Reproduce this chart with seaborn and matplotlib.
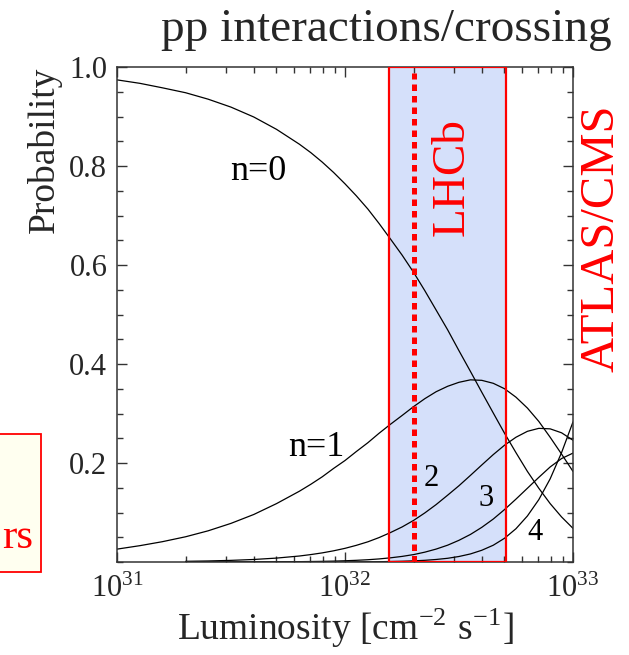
import numpy as np
import pandas as pd
import matplotlib
matplotlib.use("Agg")
import matplotlib.pyplot as plt
import seaborn as sns
from matplotlib.ticker import FixedLocator, MultipleLocator, LogLocator, NullFormatter, FixedFormatter
from matplotlib.patches import Rectangle

# ---------------- data ----------------
lum = [1.00e31, 1.26e31, 1.58e31, 2.00e31, 2.51e31, 3.16e31, 3.98e31, 5.01e31, 6.31e31,
       7.08e31, 7.94e31, 8.91e31, 1.00e32, 1.12e32, 1.26e32, 1.41e32, 1.58e32, 1.78e32,
       2.00e32, 2.24e32, 2.51e32, 2.82e32, 3.16e32, 3.55e32, 3.98e32, 4.47e32, 5.01e32,
       5.62e32, 6.31e32, 7.08e32, 7.94e32, 8.91e32, 1.00e33]
p_n0 = [0.974, 0.967, 0.958, 0.948, 0.935, 0.919, 0.899, 0.874, 0.844,
        0.827, 0.808, 0.787, 0.764, 0.740, 0.713, 0.684, 0.653, 0.620,
        0.585, 0.548, 0.509, 0.469, 0.427, 0.385, 0.343, 0.301, 0.260,
        0.221, 0.183, 0.149, 0.118, 0.091, 0.068]
p_n1 = [0.026, 0.033, 0.041, 0.051, 0.063, 0.078, 0.096, 0.118, 0.143,
        0.157, 0.172, 0.189, 0.205, 0.223, 0.241, 0.260, 0.278, 0.296,
        0.314, 0.330, 0.344, 0.355, 0.363, 0.368, 0.367, 0.361, 0.350,
        0.333, 0.311, 0.284, 0.252, 0.218, 0.183]
# higher multiplicities are drawn from 2e31 onwards
lum_high = [2.00e31, 2.51e31, 3.16e31, 3.98e31, 5.01e31, 6.31e31,
            7.08e31, 7.94e31, 8.91e31, 1.00e32, 1.12e32, 1.26e32, 1.41e32, 1.58e32, 1.78e32,
            2.00e32, 2.24e32, 2.51e32, 2.82e32, 3.16e32, 3.55e32, 3.98e32, 4.47e32, 5.01e32,
            5.62e32, 6.31e32, 7.08e32, 7.94e32, 8.91e32, 1.00e33]
p_n2 = [0.0014, 0.0021, 0.0033, 0.0051, 0.0079, 0.0121,
        0.0150, 0.0184, 0.0226, 0.0276, 0.0336, 0.0408, 0.0493, 0.0593, 0.0708,
        0.0841, 0.0992, 0.116, 0.135, 0.154, 0.175, 0.196, 0.217, 0.236,
        0.252, 0.264, 0.270, 0.269, 0.261, 0.246]
p_n3 = [0.0000, 0.0000, 0.0001, 0.0002, 0.0004, 0.0007,
        0.0010, 0.0013, 0.0018, 0.0025, 0.0034, 0.0046, 0.0062, 0.0084, 0.0113,
        0.0150, 0.0199, 0.0261, 0.0340, 0.0438, 0.0557, 0.0700, 0.0868, 0.106,
        0.127, 0.149, 0.171, 0.192, 0.209, 0.220]
p_n4 = [0.0000, 0.0000, 0.0000, 0.0000, 0.0000, 0.0000,
        0.0000, 0.0001, 0.0001, 0.0002, 0.0003, 0.0004, 0.0006, 0.0010, 0.0015,
        0.0023, 0.0034, 0.0051, 0.0075, 0.0111, 0.0163, 0.0237, 0.0339, 0.048,
        0.0672, 0.093, 0.126, 0.168, 0.221, 0.283]

curve_names = ["n=0", "n=1", "2", "3", "4"]
lhcb_range = [1.56e32, 5.1e32]
lhcb_nominal = 2.0e32
y_ticks = [0.2, 0.4, 0.6, 0.8, 1.0]
y_tick_labels = ["0.2", "0.4", "0.6", "0.8", "1.0"]
x_ticks = [1e31, 1e32, 1e33]
x_tick_labels = [r"$\mathdefault{10^{31}}$", r"$\mathdefault{10^{32}}$", r"$\mathdefault{10^{33}}$"]

title_text = "pp interactions/crossing"
xlabel_text = r"Luminosity [cm$^{\mathdefault{-2}}$ s$^{\mathdefault{-1}}$]"
ylabel_text = "Probability"

# ---------------- long-form table ----------------
frames = []
for name, xs, ys in zip(curve_names,
                        [lum, lum, lum_high, lum_high, lum_high],
                        [p_n0, p_n1, p_n2, p_n3, p_n4]):
    frames.append(pd.DataFrame({"L": xs, "P": ys, "curve": name}))
df = pd.concat(frames, ignore_index=True)

# ---------------- style ----------------
sns.set_style("ticks")
plt.rcParams['font.family'] = ['Liberation Serif', 'DejaVu Serif']
plt.rcParams['mathtext.fontset'] = 'stix'
plt.rcParams['axes.unicode_minus'] = True

W, H = 629, 655
fig = plt.figure(figsize=(W / 100, H / 100), dpi=100)
ax_l, ax_r, ax_t, ax_b = 117, 573, 67, 562
ax = fig.add_axes([ax_l / W, (H - ax_b) / H, (ax_r - ax_l) / W, (ax_b - ax_t) / H])

red = "#ff0000"

# LHCb luminosity band
ax.axvspan(lhcb_range[0], lhcb_range[1], facecolor="#d5e0fa", edgecolor="none", zorder=0.5)

sns.lineplot(data=df, x="L", y="P", hue="curve", palette=["black"] * 5,
             estimator=None, legend=False, ax=ax, linewidth=0.9, zorder=2)

ax.axvspan(lhcb_range[0], lhcb_range[1], facecolor="none", edgecolor=red, lw=1.6, zorder=3)
ax.axvline(lhcb_nominal, ymin=0.0, ymax=0.988, color=red, lw=3.6,
           linestyle=(0, (1.3, 1.0)), zorder=4)

ax.set_xscale("log")
ax.set_xlim(1e31, 1e33)
ax.set_ylim(0, 1.0)

ax.xaxis.set_major_locator(FixedLocator(x_ticks))
ax.xaxis.set_major_formatter(FixedFormatter(x_tick_labels))
ax.xaxis.set_minor_locator(LogLocator(base=10, subs=np.arange(2, 10)))
ax.xaxis.set_minor_formatter(NullFormatter())
ax.yaxis.set_major_locator(FixedLocator(y_ticks))
ax.yaxis.set_major_formatter(FixedFormatter(y_tick_labels))
ax.yaxis.set_minor_locator(MultipleLocator(0.05))

ax.tick_params(which="both", direction="in", top=True, right=True, color="#333333", width=1.0)
ax.tick_params(which="major", length=7, labelsize=22, pad=7)
ax.tick_params(which="minor", length=4)
ax.tick_params(axis="x", which="major", pad=9)
for s in ax.spines.values():
    s.set_color("#333333")
    s.set_linewidth(1.1)
    s.set_visible(True)

ax.set_xlabel(xlabel_text, fontsize=27, labelpad=2)
ax.set_ylabel(ylabel_text, fontsize=27)
ax.yaxis.set_label_coords((62 - ax_l) / (ax_r - ax_l), (ax_b - 150) / (ax_b - ax_t))

def axfrac(px, py):
    return ((px - ax_l) / (ax_r - ax_l), (ax_b - py) / (ax_b - ax_t))

label_pos = {"n=0": (258, 172), "n=1": (316, 447), "2": (431, 478), "3": (486, 498), "4": (535, 533)}
label_size = {"n=0": 26, "n=1": 26, "2": 22, "3": 22, "4": 22}
for name in curve_names:
    fx, fy = axfrac(*label_pos[name])
    ax.text(fx, fy, name, transform=ax.transAxes, ha="center", va="center",
            fontsize=label_size[name], color="black", zorder=5)

fx, fy = axfrac(452, 177)
ax.text(fx, fy, "LHCb", transform=ax.transAxes, rotation=90, ha="center", va="center",
        fontsize=34, color=red, zorder=5)

fig.text(602 / W, 1 - 238 / H, "ATLAS/CMS", rotation=90, ha="center", va="center",
         fontsize=35, color=red)

fig.text(386 / W, 1 - 41 / H, title_text, ha="center", va="baseline", fontsize=34)

# partially visible annotation box on the left edge
fig.patches.append(Rectangle((-12 / W, (H - 572) / H), 52.5 / W, (572 - 434) / H,
                             transform=fig.transFigure, facecolor="#fffff0",
                             edgecolor=red, lw=1.3, zorder=0))
fig.text(2 / W, 1 - 548 / H, "rs", ha="left", va="baseline", fontsize=31, color=red)

fig.savefig("out.png", dpi=100)
